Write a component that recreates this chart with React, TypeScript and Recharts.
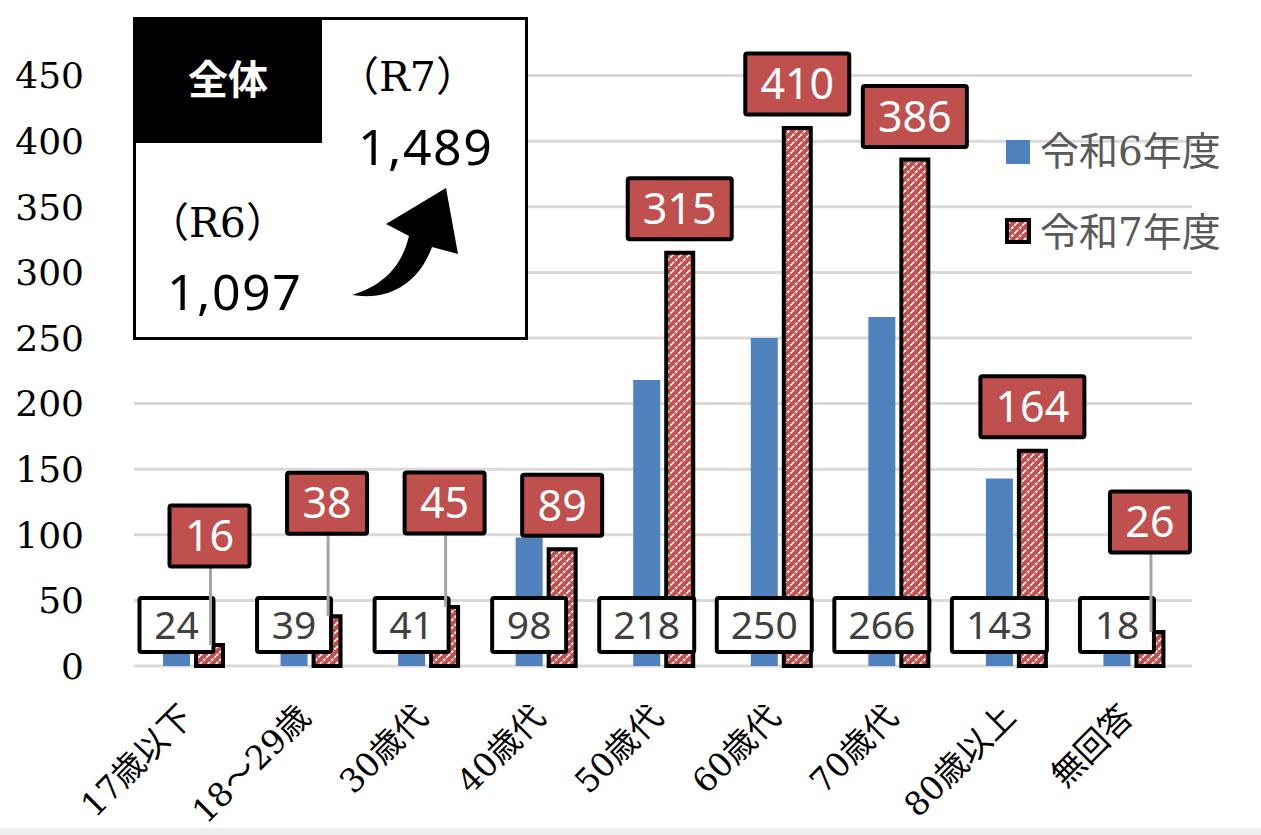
import { BarChart, Bar, XAxis, YAxis, CartesianGrid, LabelList, Legend } from 'recharts'

const categories = ['17歳以下', '18～29歳', '30歳代', '40歳代', '50歳代', '60歳代', '70歳代', '80歳以上', '無回答']
const r6Values = [24, 39, 41, 98, 218, 250, 266, 143, 18]
const r7Values = [16, 38, 45, 89, 315, 410, 386, 164, 26]
const yTicks = [0, 50, 100, 150, 200, 250, 300, 350, 400, 450]
const yMax = 500
const seriesNames = ['令和6年度', '令和7年度']

// how far (px) each R7 label sits above its bar top; the small bars get a leader line
const r7LabelLift = [109, 113, 104, 44, 44, 44, 43, 44, 110]

const data = categories.map((name, i) => ({ name, r6: r6Values[i], r7: r7Values[i] }))

const BLUE = '#4F81BD'
const RED = '#C0504D'
const BAR = 27
const GAP = 6
const SANS = "'Noto Sans', 'Noto Sans CJK JP', sans-serif"
const SERIF = "'DejaVu Serif', 'Noto Sans CJK JP', serif"

function Hatch({ id }: { id: string }) {
  return (
    <pattern id={id} patternUnits="userSpaceOnUse" width={8} height={8}>
      <rect width={8} height={8} fill={RED} />
      <path d="M-2,2 L2,-2 M0,8 L8,0 M6,10 L10,6" stroke="#fff" strokeWidth={1.8} strokeDasharray="3 1.5" />
    </pattern>
  )
}

function XTick({ x, y, payload }: any) {
  return (
    <text
      transform={`translate(${x + 2},${y + 53}) rotate(-45)`}
      textAnchor="end"
      fontFamily={SERIF}
      fontSize={33}
      fill="#000"
    >
      {payload.value}
    </text>
  )
}

function R6Label(props: any) {
  const i = props.index
  const v = r6Values[i]
  const cx = Number(props.x) + Number(props.width) / 2 - (BAR + GAP)
  const base = Number(props.y) + Number(props.height)
  const cy = base - 41
  const w = String(v).length === 3 ? 95 : 74
  const h = 54
  return (
    <g>
      <rect x={cx - w / 2} y={cy - h / 2} width={w} height={h} fill="#fff" stroke="#000" strokeWidth={4} rx={2} />
      <text x={cx} y={cy} dy="0.357em" textAnchor="middle" fill="#404040" fontSize={39} fontFamily={SANS}>
        {v}
      </text>
    </g>
  )
}

function R7Label(props: any) {
  const i = props.index
  const v = r7Values[i]
  const cx = Number(props.x) + Number(props.width) / 2
  const top = Number(props.y)
  const lift = r7LabelLift[i]
  const cy = top - lift
  const w = String(v).length === 3 ? 104 : 80
  const h = 61
  return (
    <g>
      {lift > 60 && (
        <line x1={cx + 1} x2={cx + 1} y1={cy + h / 2} y2={top} stroke="#A6A6A6" strokeWidth={3} />
      )}
      <rect x={cx - w / 2} y={cy - h / 2} width={w} height={h} fill={RED} stroke="#000" strokeWidth={4} rx={2} />
      <text x={cx} y={cy} dy="0.357em" textAnchor="middle" fill="#fff" fontSize={43} fontFamily={SANS}>
        {v}
      </text>
    </g>
  )
}

function LegendBox() {
  return (
    <svg width={250} height={140} style={{ display: 'block' }}>
      <defs>
        <Hatch id="hatch-legend" />
      </defs>
      <rect x={6} y={20} width={24} height={24} fill={BLUE} />
      <text x={40} y={45} fontFamily={SERIF} fontSize={39} fill="#595959">
        {seriesNames[0]}
      </text>
      <rect x={7} y={100} width={22} height={22} fill="url(#hatch-legend)" stroke="#000" strokeWidth={4} />
      <text x={40} y={126} fontFamily={SERIF} fontSize={39} fill="#595959">
        {seriesNames[1]}
      </text>
    </svg>
  )
}

function TotalBox() {
  return (
    <svg
      width={1261}
      height={835}
      style={{ position: 'absolute', left: 0, top: 0, pointerEvents: 'none' }}
    >
      <rect x={134.5} y={18.5} width={392} height={320} fill="#fff" stroke="#000" strokeWidth={3} />
      <rect x={133} y={17} width={189} height={126} fill="#000" />
      <text x={228} y={94} textAnchor="middle" fill="#fff" fontSize={40} fontWeight={700} fontFamily="'Noto Sans CJK JP', sans-serif">
        全体
      </text>
      <text x={338} y={91} fontSize={41} fontFamily={SERIF} fill="#000">（R7）</text>
      <text x={358} y={165} fontSize={50} letterSpacing={1.5} fontFamily={SANS} fill="#000">1,489</text>
      <text x={148} y={237} fontSize={41} fontFamily={SERIF} fill="#000">（R6）</text>
      <text x={167} y={310} fontSize={50} letterSpacing={1.5} fontFamily={SANS} fill="#000">1,097</text>
      <path
        d="M352,295 C382,300 416,290 432,247 L458,254 L446,188 L386,224 L409,236 C402,265 385,285 352,295 Z"
        fill="#000"
      />
    </svg>
  )
}

// grid lines only at the labelled ticks (no line at the top of the 0-500 range)
function gridRows({ offset, height }: any) {
  const top = offset?.top ?? 10
  const h = offset?.height ?? height - 179
  return yTicks.map((t) => top + h * (1 - t / yMax))
}

export default function App() {
  return (
    <div style={{ position: 'absolute', left: 0, top: 0, width: 1261, height: 835, background: '#fff' }}>
      <BarChart
        width={1261}
        height={835}
        data={data}
        margin={{ top: 10, right: 69, bottom: 0, left: 0 }}
        barSize={BAR}
        barGap={GAP}
      >
        <defs>
          <Hatch id="hatch-r7" />
        </defs>
        <CartesianGrid
          vertical={false}
          stroke="#D9D9D9"
          strokeWidth={3}
          horizontalCoordinatesGenerator={gridRows}
        />
        <XAxis dataKey="name" height={169} axisLine={false} tickLine={false} tickSize={0} tickMargin={0} interval={0} tick={<XTick />} />
        <YAxis
          width={134}
          domain={[0, yMax]}
          ticks={yTicks}
          axisLine={false}
          tickLine={false}
          tickSize={0}
          tickMargin={50}
          tick={{ fontFamily: SERIF, fontSize: 36, fill: '#000' }}
        />
        <Legend
          layout="horizontal"
          verticalAlign="middle"
          align="center"
          wrapperStyle={{ position: 'absolute', left: 1000, top: 120, width: 250, height: 140 }}
          content={() => <LegendBox />}
        />
        <Bar dataKey="r6" name={seriesNames[0]} fill={BLUE} isAnimationActive={false} />
        <Bar dataKey="r7" name={seriesNames[1]} fill="url(#hatch-r7)" stroke="#000" strokeWidth={4} isAnimationActive={false}>
          <LabelList dataKey="r7" content={<R6Label />} />
          <LabelList dataKey="r7" content={<R7Label />} />
        </Bar>
      </BarChart>
      <TotalBox />
      <div style={{ position: 'absolute', left: 0, top: 828, width: 1261, height: 7, background: '#EFEFEF' }} />
    </div>
  )
}
